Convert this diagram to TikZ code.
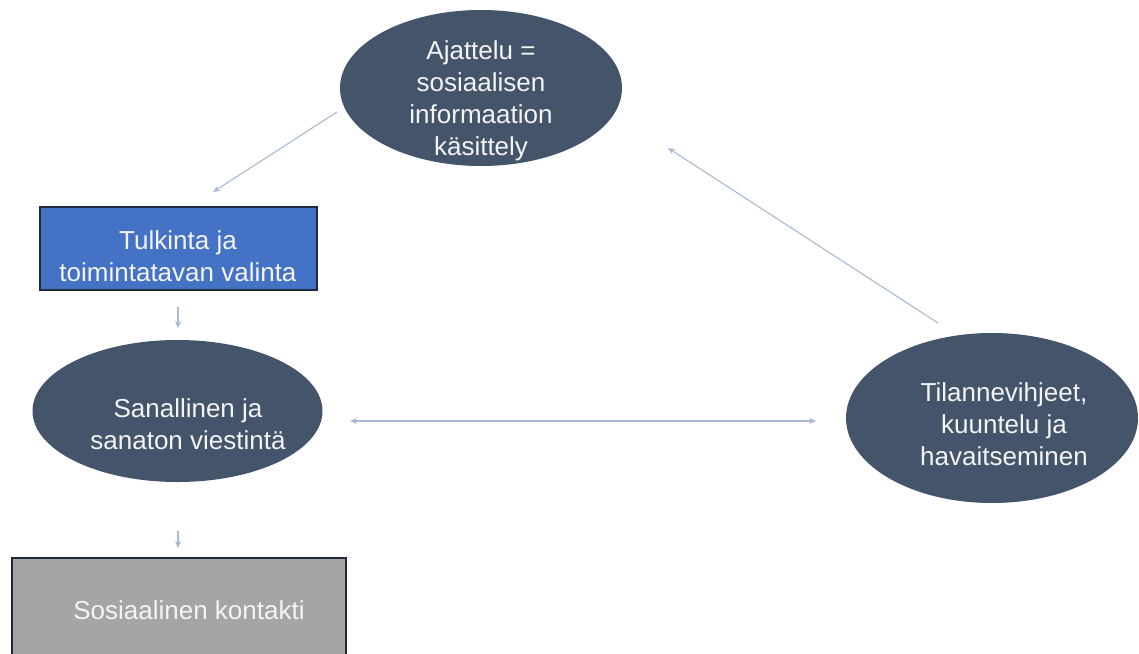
\documentclass[tikz,border=0pt]{standalone}
\usepackage{fontspec}
\setmainfont{Liberation Sans}
\usetikzlibrary{shapes.geometric,arrows.meta}
\definecolor{ellfill}{HTML}{44546A}
\definecolor{bluefill}{HTML}{4472C4}
\definecolor{grayfill}{HTML}{A5A5A5}
\definecolor{arrowc}{HTML}{A9B8D4}
\definecolor{edgec}{HTML}{1F2A3C}
\definecolor{txtc}{HTML}{F4F4F4}
\tikzset{
  ell/.style={ellipse, fill=ellfill, inner sep=0pt},
  boxb/.style={rectangle, fill=bluefill, draw=edgec, line width=1.2pt, inner sep=0pt},
  boxg/.style={rectangle, fill=grayfill, draw=edgec, line width=1.2pt, inner sep=0pt},
  lbl/.style={text=txtc, align=center, font=\fontsize{26}{32}\selectfont, inner sep=0pt},
  conn/.style={draw=arrowc, line width=1.1pt, -{Stealth[length=7pt,width=6pt]}},
  conn2/.style={draw=arrowc, line width=1.1pt, {Stealth[length=7pt,width=6pt]}-{Stealth[length=7pt,width=6pt]}}
}
\begin{document}
\begin{tikzpicture}[x=1pt,y=-1pt]
\useasboundingbox (0,0) rectangle (1139,653);
\fill[white] (0,0) rectangle (1139,653);
\node[ell, minimum width=282pt, minimum height=156pt] (top) at (481,88) {};
\node[boxb, minimum width=277pt, minimum height=83pt] (tulk) at (178.5,248.5) {};
\node[ell, minimum width=290pt, minimum height=142pt] (sana) at (177.5,411) {};
\node[ell, minimum width=292pt, minimum height=170pt] (tila) at (992,418) {};
\begin{scope}
\clip (0,0) rectangle (1139,653);
\node[boxg, minimum width=334pt, minimum height=120pt] (kont) at (179,618) {};
\end{scope}
\node[lbl] (topt) at (481,101) {Ajattelu =\\sosiaalisen\\informaation\\käsittely};
\node[lbl] (tulkt) at (178,256) {Tulkinta ja\\toimintatavan valinta};
\node[lbl] (sanat) at (188,424) {Sanallinen ja\\sanaton viestintä};
\node[lbl] (tilat) at (1004,424) {Tilannevihjeet,\\kuuntelu ja\\havaitseminen};
\node[lbl] (kontt) at (189,610) {Sosiaalinen kontakti};
\coordinate (a1s) at (337,112);
\coordinate (a1e) at (213,192);
\coordinate (a2s) at (178,307);
\coordinate (a2e) at (178,328);
\coordinate (a3s) at (350,421);
\coordinate (a3e) at (816,421);
\coordinate (a4s) at (938,323);
\coordinate (a4e) at (668,148);
\coordinate (a5s) at (178,531);
\coordinate (a5e) at (178,548);
\draw[conn] (a1s) -- (a1e);
\draw[conn] (a2s) -- (a2e);
\draw[conn2] (a3s) -- (a3e);
\draw[conn] (a4s) -- (a4e);
\draw[conn] (a5s) -- (a5e);
\end{tikzpicture}
\end{document}
